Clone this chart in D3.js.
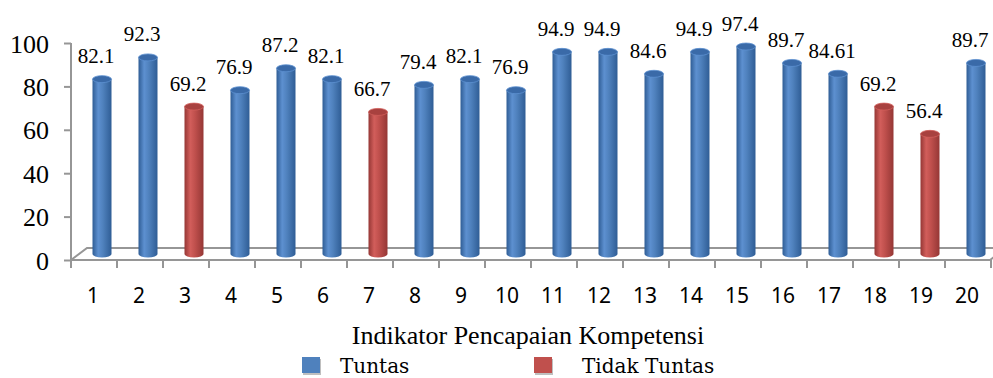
<!DOCTYPE html>
<html><head><meta charset="utf-8">
<script src="https://cdn.jsdelivr.net/npm/d3@7/dist/d3.min.js"></script>
</head><body style="margin:0">
<svg id="c" width="993" height="378"><style>
text.serif{font-family:"Liberation Serif";}
text.sans{font-family:"Noto Sans";}
text.leg{font-family:"DejaVu Serif";}
</style></svg>
<script>
const categories = ["1","2","3","4","5","6","7","8","9","10","11","12","13","14","15","16","17","18","19","20"];
const values = [82.1,92.3,69.2,76.9,87.2,82.1,66.7,79.4,82.1,76.9,94.9,94.9,84.6,94.9,97.4,89.7,84.61,69.2,56.4,89.7];
const labels = ["82.1","92.3","69.2","76.9","87.2","82.1","66.7","79.4","82.1","76.9","94.9","94.9","84.6","94.9","97.4","89.7","84.61","69.2","56.4","89.7"];
const status = ["Tuntas","Tuntas","Tidak Tuntas","Tuntas","Tuntas","Tuntas","Tidak Tuntas","Tuntas","Tuntas","Tuntas","Tuntas","Tuntas","Tuntas","Tuntas","Tuntas","Tuntas","Tuntas","Tidak Tuntas","Tidak Tuntas","Tuntas"];
const yTicks = [0,20,40,60,80,100];
const seriesNames = ["Tuntas","Tidak Tuntas"];
const axisTitle = "Indikator Pencapaian Kompetensi";

const svg = d3.select("#c");
const x = d3.scaleBand().domain(categories).range([71, 991]);
const y = d3.scaleLinear().domain([0,100]).range([260, 43]);
const yBar = d3.scaleLinear().domain([0,100]).range([254, 41]);
const depthX = 8;
const color = d3.scaleOrdinal().domain(seriesNames).range(["#4F81BD","#C0504D"]);
const edge = d3.scaleOrdinal().domain(seriesNames).range(["#2f5d95","#953735"]);
const light = d3.scaleOrdinal().domain(seriesNames).range(["#5d90d0","#d25e5b"]);
const topc = d3.scaleOrdinal().domain(seriesNames).range(["#3a6aa8","#a8413f"]);
const data = categories.map((c,i)=>({c, v:values[i], s:status[i], l:labels[i]}));

const defs = svg.append("defs");
seriesNames.forEach((s,i)=>{
  const g = defs.append("linearGradient").attr("id","g"+i).attr("x1","0").attr("x2","1").attr("y1","0").attr("y2","0");
  g.append("stop").attr("offset","0%").attr("stop-color",edge(s));
  g.append("stop").attr("offset","30%").attr("stop-color",light(s));
  g.append("stop").attr("offset","55%").attr("stop-color",color(s));
  g.append("stop").attr("offset","100%").attr("stop-color",edge(s));
});

const axisCol = "#969696";
const x0 = x.range()[0], x1 = x.range()[1];
svg.append("path").attr("fill","none").attr("stroke",axisCol).attr("stroke-width",2)
  .attr("d",`M${x0},${y(0)} L${x0+16},${y(0)-12} L${x1+2},${y(0)-12}`);
svg.append("path").attr("fill","none").attr("stroke",axisCol).attr("stroke-width",2)
  .attr("d",`M${x1-1},${y(0)} L${x1+3},${y(0)-3}`);

// y axis
const yAxis = d3.axisLeft(y).tickValues(yTicks).tickSize(7).tickPadding(15).tickFormat(d3.format("d"));
const ya = svg.append("g").attr("transform",`translate(${x0},0)`).call(yAxis);
ya.attr("font-family",null).attr("font-size",null);
ya.select(".domain").attr("stroke",axisCol).attr("stroke-width",2).attr("d",`M0,${y(100)}V${y(0)}`);
ya.selectAll(".tick line").attr("stroke",axisCol).attr("stroke-width",2);
ya.selectAll(".tick text").attr("class","serif").attr("font-size",26).attr("fill","#000").attr("dy","0.35em");

// x axis
const xAxis = d3.axisBottom(x).tickSize(0).tickPadding(0);
const xa = svg.append("g").attr("transform",`translate(0,${y(0)})`).call(xAxis);
xa.attr("font-family",null).attr("font-size",null);
xa.select(".domain").attr("stroke",axisCol).attr("stroke-width",2).attr("d",`M${x0},0H${x1}`);
xa.selectAll(".tick text").attr("class","sans").attr("font-size",21).attr("fill","#000").attr("y",43).attr("dy",null).attr("dx","-1");
const bounds = categories.map(c=>x(c)).concat([x1]);
svg.append("g").selectAll("line").data(bounds).join("line")
  .attr("x1",d=>d).attr("x2",d=>d).attr("y1",y(0)).attr("y2",y(0)+8)
  .attr("stroke",axisCol).attr("stroke-width",2);

// bars
const bw = 19, ry = 3.5;
const bars = svg.append("g").selectAll("g").data(data).join("g");
const cx = d => x(d.c) + x.bandwidth()/2 + depthX;
bars.append("path")
  .attr("fill",d=>`url(#g${seriesNames.indexOf(d.s)})`)
  .attr("d",d=>{
    const l = cx(d)-bw/2, r = cx(d)+bw/2, t = yBar(d.v), b = yBar(0);
    return `M${l},${t} L${l},${b} A${bw/2},${ry} 0 0 0 ${r},${b} L${r},${t} Z`;
  });
bars.append("ellipse")
  .attr("cx",cx).attr("cy",d=>yBar(d.v)).attr("rx",bw/2).attr("ry",ry)
  .attr("fill",d=>topc(d.s)).attr("stroke",d=>light(d.s)).attr("stroke-width",0.8);

// labels
svg.append("g").selectAll("text").data(data).join("text").attr("class","serif").attr("font-size",21)
  .attr("x",d=>x(d.c)+x.bandwidth()/2+2).attr("y",d=>yBar(d.v)-16)
  .attr("text-anchor","middle").attr("fill","#000").text(d=>d.l);

// axis title
svg.append("text").attr("class","serif").attr("font-size",26).attr("x",528).attr("y",344).attr("text-anchor","middle")
  .attr("fill","#000").text(axisTitle);

// legend
const legX = [302, 534];
const legT = [340, 582];
const leg = svg.append("g").selectAll("g").data(seriesNames).join("g");
leg.append("rect").attr("x",(d,i)=>legX[i]+1).attr("y",359).attr("width",18).attr("height",16)
  .attr("fill","#000").attr("opacity",0.25);
leg.append("rect").attr("x",(d,i)=>legX[i]).attr("y",357).attr("width",18).attr("height",16)
  .attr("fill",d=>color(d));
leg.append("text").attr("class","leg").attr("font-size",20).attr("x",(d,i)=>legT[i]).attr("y",373)
  .attr("fill","#000").text(d=>d);
</script>
</body></html>
